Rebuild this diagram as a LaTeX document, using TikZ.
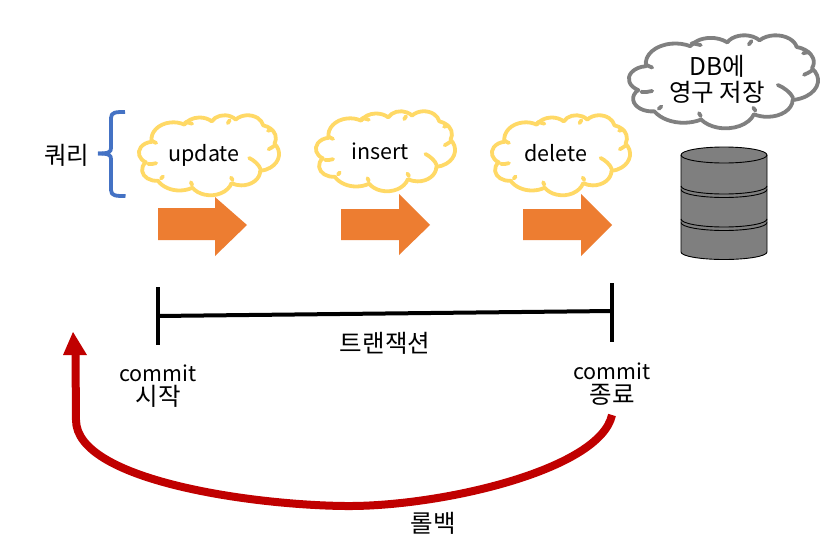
\documentclass[tikz,border=0pt]{standalone}
\usepackage{fontspec}
\setmainfont{Noto Sans CJK KR}
\definecolor{cloudyellow}{HTML}{FFD966}
\definecolor{cloudgray}{HTML}{808080}
\definecolor{arroworange}{HTML}{ED7D31}
\definecolor{braceblue}{HTML}{4472C4}
\definecolor{rollred}{HTML}{C00000}
\definecolor{dbgray}{HTML}{7F7F7F}
\newcommand{\kor}{\fontsize{24.5}{24}\selectfont}
\tikzset{
  x=1pt,y=-1pt,
  lab/.style={inner sep=0pt,align=center,font=\fontsize{21.5}{24}\selectfont,text=black},
  pa/.style n args={4}{
    /utils/exec={%
      \pgfmathsetmacro{\tA}{atan2(#1*sin(#3),#2*cos(#3))}%
      \pgfmathsetmacro{\tB}{atan2(#1*sin(#3+#4),#2*cos(#3+#4))}%
      \pgfmathsetmacro{\tC}{\tB<\tA ? \tB+360 : \tB}%
    },
    insert path={arc[start angle=\tA,end angle=\tC,x radius=#1,y radius=#2]}
  },
}
\newcommand{\cloudshape}[5]{% x0 y0 x1 y1 colour
  \begin{scope}[shift={(#1,#2)},x={({(#3-#1)/432*1pt},0pt)},y={(0pt,{-(#4-#2)/432*1pt})},
     line width=3.8pt,line join=round,line cap=round]
    \filldraw[fill=white,draw=#5] (39,143.7)
      [pa={67.53}{91.90}{-190.487}{123.781}]
      [pa={53.33}{72.67}{-144.102}{89.945}]
      [pa={43.65}{59.45}{-145.808}{99.723}]
      [pa={48.57}{65.95}{-130.986}{117.242}]
      [pa={53.33}{72.73}{-78.709}{109.027}]
      [pa={67.75}{92.20}{-46.267}{130.269}]
      [pa={57.85}{78.67}{0.625}{114.033}]
      [pa={67.52}{92.15}{22.452}{115.173}]
      [pa={77.20}{105.43}{66.243}{75.711}]
      [pa={43.60}{59.18}{-274.942}{146.736}]
      [pa={43.45}{59.45}{-246.829}{152.519}]
      -- cycle;
    \draw[draw=#5] (28,264) .. controls (36,267) and (45,264) .. (53,260);
    \draw[draw=#5] (68,343) .. controls (70,338) and (72,334) .. (74,332);
    \draw[draw=#5] (164,377) .. controls (162,372) and (160,368) .. (160,363);
    \draw[draw=#5] (289,351) .. controls (287,346) and (285,342) .. (284,338);
    \draw[draw=#5] (375,292) .. controls (370,268) and (355,245) .. (340,232);
    \draw[draw=#5] (420,163) .. controls (413,172) and (406,180) .. (400,185);
    \draw[draw=#5] (38,137) .. controls (43,142) and (48,148) .. (53,151);
    \draw[draw=#5] (164,47) .. controls (158,44) and (150,40) .. (143,38);
    \draw[draw=#5] (274,44) .. controls (276,38) and (278,32) .. (280,28);
    \draw[draw=#5] (398,85) .. controls (403,82) and (408,80) .. (412,80);
  \end{scope}}
\begin{document}
\begin{tikzpicture}
\useasboundingbox (0,0) rectangle (828,541);
\fill[white] (0,0) rectangle (828,541);
% clouds
\cloudshape{139}{115}{279}{195}{cloudyellow}
\cloudshape{316}{111}{455}{191}{cloudyellow}
\cloudshape{492}{115}{630}{195}{cloudyellow}
\cloudshape{629}{35}{818}{128}{cloudgray}
\node[lab] (update) at (204,155) {update};
\node[lab] (insert) at (380,151) {insert};
\node[lab] (delete) at (556,153) {delete};
\node[lab,font=\fontsize{24.5}{26}\selectfont] (db) at (717,79) {DB에\\영구 저장};
% orange arrows
\fill[arroworange] (158,208) -- (215,208) -- (215,197) -- (247,225) -- (215,256) -- (215,240) -- (158,240) -- cycle;
\fill[arroworange] (341,209) -- (399,209) -- (399,194) -- (430,225) -- (399,255) -- (399,240) -- (341,240) -- cycle;
\fill[arroworange] (523,209) -- (581,209) -- (581,194) -- (612,225) -- (581,256) -- (581,240) -- (523,240) -- cycle;
% brace
\coordinate (bt) at (125,112);
\coordinate (bb) at (125.5,196);
\coordinate (bm) at (98,153.5);
\draw[braceblue,line width=3.8pt,line join=round]
  (bt) .. controls (116,112) and (111,112) .. (111,118) -- (111,148)
  .. controls (111,152) and (109,153.5) .. (bm);
\draw[braceblue,line width=3.8pt,line join=round]
  (bm) .. controls (109,153.5) and (111,155) .. (111,159) -- (111,190)
  .. controls (111,196) and (116,196) .. (bb);
\node[lab,font=\kor] (query) at (67,155) {쿼리};
% database
\draw[black,fill=dbgray,line width=0.9pt] (681,155) arc[start angle=180,end angle=360,x radius=43,y radius=8]
  -- (767,252) arc[start angle=0,end angle=180,x radius=43,y radius=7.5] -- cycle;
\draw[black,line width=0.9pt] (681,155) arc[start angle=180,end angle=0,x radius=43,y radius=8];
\foreach \yy in {186,189.5,219,222.5}
  \draw[black,line width=0.9pt] (681,\yy) arc[start angle=180,end angle=0,x radius=43,y radius=8];
% timeline
\coordinate (t0a) at (158,287);
\coordinate (t0b) at (158,345);
\coordinate (t1a) at (612,283);
\coordinate (t1b) at (612,342);
\coordinate (l0) at (158,316);
\coordinate (l1) at (612,311);
\draw[black,line width=4pt] (t0a) -- (t0b);
\draw[black,line width=4pt] (t1a) -- (t1b);
\draw[black,line width=4pt] (l0) -- (l1);
\node[lab,font=\kor] (tx) at (385,343) {트랜잭션};
\node[lab] (cs) at (158,386) {commit\\{\kor 시작}};
\node[lab] (ce) at (612,384) {commit\\{\kor 종료}};
% rollback
\coordinate (r0) at (612,415);
\coordinate (r1) at (75.5,355);
\draw[rollred,line width=8pt] (r0) .. controls (600,470) and (440,507) .. (345,506)
  .. controls (250,505) and (76,480) .. (76,420) -- (r1);
\fill[rollred] (73,332) -- (87,355) -- (63,355) -- cycle;
\node[lab,font=\kor] (rb) at (433,523) {롤백};
\end{tikzpicture}
\end{document}
